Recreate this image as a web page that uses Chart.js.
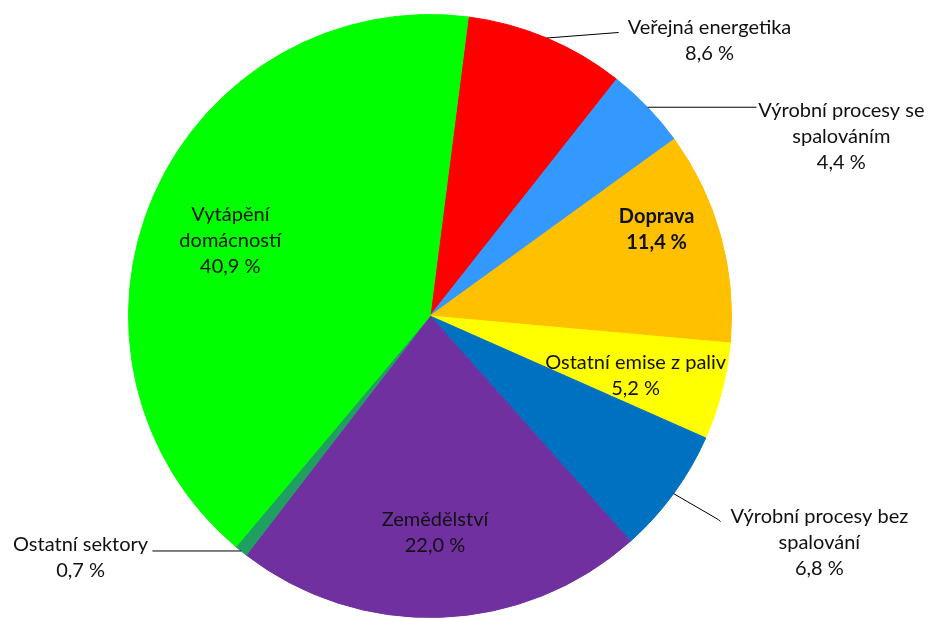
<!DOCTYPE html>
<html>
<head>
    <meta charset="utf-8">
    <title>Emise - podíly sektorů</title>
    <script src="https://cdn.jsdelivr.net/npm/chart.js@4/dist/chart.umd.min.js"></script>
</head>
<body style="margin:0; background-color: white;">
    <div style="width:937px; height:619px;">
        <canvas id="myChart"></canvas>
    </div>
    <script>
        // Data grafu (od horní části, po směru hodinových ručiček)
        var kategorie = ['Veřejná energetika', 'Výrobní procesy se spalováním', 'Doprava', 'Ostatní emise z paliv',
                         'Výrobní procesy bez spalování', 'Zemědělství', 'Ostatní sektory', 'Vytápění domácností'];
        var podily = [8.6, 4.4, 11.4, 5.2, 6.8, 22.0, 0.7, 40.9];
        var barvy = ['#ff0000', '#3399ff', '#ffc000', '#ffff00', '#0070c0', '#7030a0', '#20a060', '#00ff00'];
        // řádky popisků
        var popisky = [
            ['Veřejná energetika'],
            ['Výrobní procesy se', 'spalováním'],
            ['Doprava'],
            ['Ostatní emise z paliv'],
            ['Výrobní procesy bez', 'spalování'],
            ['Zemědělství'],
            ['Ostatní sektory'],
            ['Vytápění', 'domácností']
        ];

        // umístění popisků vůči středu koláče (v px pro poloměr 302)
        // out = vynášecí čára vede k popisku mimo koláč, vodorovne = čára vede rovně
        var umisteni = [
            {x: 280, y: -276, out: true, konec: [189, -284]},
            {x: 412, y: -180, out: true, vodorovne: true, konec: [327, 0]},
            {x: 227, y: -87},
            {x: 206, y: 60},
            {x: 390, y: 227, out: true, lom: [289, 204], konec: [291, 206]},
            {x: 5, y: 217},
            {x: -350, y: 242, out: true, vodorovne: true, konec: [-278, 0]},
            {x: -200, y: -76}
        ];

        function formatCislo(v) {
            return v.toFixed(1).replace('.', ',') + ' %';
        }

        var popiskyPlugin = {
            id: 'popisky',
            afterDatasetsDraw: function(chart) {
                var ctx = chart.ctx;
                var meta = chart.getDatasetMeta(0);
                ctx.save();
                meta.data.forEach(function(arc, i) {
                    var u = umisteni[i];
                    var k = arc.outerRadius / 302;
                    var cx = arc.x, cy = arc.y;
                    var lines = popisky[i].concat([formatCislo(podily[i])]);
                    var lh = 26;
                    var tx = cx + u.x * k;
                    var ty = cy + u.y * k - (lines.length - 1) * lh / 2;

                    if (u.out) {
                        var mid = (arc.startAngle + arc.endAngle) / 2;
                        var ex = cx + Math.cos(mid) * arc.outerRadius;
                        var ey = cy + Math.sin(mid) * arc.outerRadius;
                        ctx.strokeStyle = '#000000';
                        ctx.lineWidth = 1;
                        ctx.beginPath();
                        ctx.moveTo(ex, ey);
                        if (u.lom) ctx.lineTo(cx + u.lom[0] * k, cy + u.lom[1] * k);
                        if (u.vodorovne) ctx.lineTo(cx + u.konec[0] * k, ey);
                        else ctx.lineTo(cx + u.konec[0] * k, cy + u.konec[1] * k);
                        ctx.stroke();
                    }

                    ctx.font = (i === 2 ? 'bold ' : '') + '20px Lato';
                    ctx.fillStyle = '#111111';
                    ctx.textAlign = 'center';
                    ctx.textBaseline = 'middle';
                    lines.forEach(function(t, j) {
                        ctx.fillText(t, tx, ty + j * lh);
                    });
                });
                ctx.restore();
            }
        };

        var ctx = document.getElementById('myChart').getContext('2d');
        var myChart = new Chart(ctx, {
            type: 'pie',
            data: {
                labels: kategorie,
                datasets: [{
                    data: podily,
                    backgroundColor: barvy,
                    borderColor: barvy,
                    borderWidth: 1
                }]
            },
            options: {
                responsive: true,
                maintainAspectRatio: false,
                animation: false,
                rotation: 7.3,
                layout: {
                    padding: {left: 128, right: 205, top: 14, bottom: 1}
                },
                plugins: {
                    legend: { display: false },
                    tooltip: { enabled: false }
                }
            },
            plugins: [popiskyPlugin]
        });
    </script>
</body>
</html>
